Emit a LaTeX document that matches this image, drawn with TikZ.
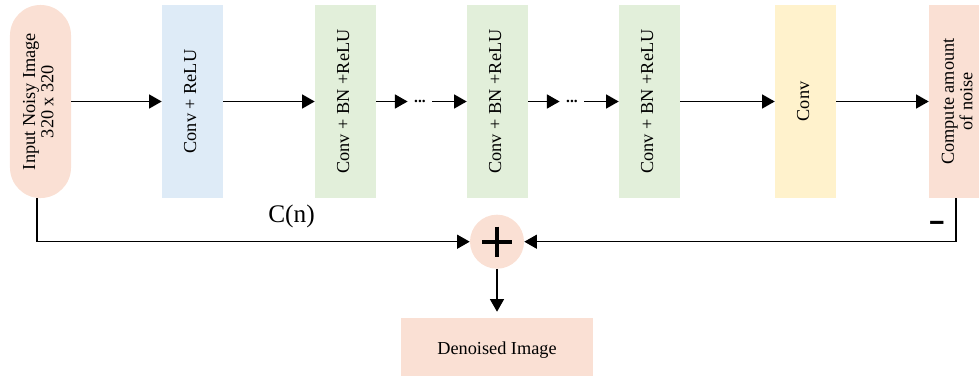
\documentclass[tikz,border=0pt]{standalone}
\usepackage{fontspec}
\setmainfont{Liberation Serif}
\usetikzlibrary{arrows.meta,positioning,calc}
\definecolor{peach}{RGB}{250,224,212}
\definecolor{convblue}{RGB}{222,235,247}
\definecolor{bngreen}{RGB}{226,239,218}
\definecolor{convyellow}{RGB}{255,242,204}
\newcommand{\vlabel}[1]{\rotatebox{90}{\begin{tabular}{@{}c@{}}#1\end{tabular}}}

\begin{document}
\begin{tikzpicture}[x=0.025cm,y=-0.025cm,
    layer/.style={minimum width=1.525cm,minimum height=4.825cm,inner sep=0pt,font=\fontsize{13}{13}\selectfont},
    dots/.style={inner sep=4.5pt,font=\fontsize{11}{11}\selectfont\bfseries},
    flow/.style={line width=0.9pt,-{Triangle[length=9pt,width=10pt]}}]
    \useasboundingbox (0,0) rectangle (979,375);

    % Network layers (positions in px of the 979 x 375 frame)
    \node[layer,fill=peach,rounded corners=0.76cm] (input) at (40.5,101.5) {\vlabel{Input Noisy Image\\320 x 320}};
    \node[layer,fill=convblue] (conv1) at (192.5,101.5) {\vlabel{Conv + ReLU}};
    \node[layer,fill=bngreen] (bn1) at (345.5,101.5) {\vlabel{Conv + BN +ReLU}};
    \node[dots] (dots1) at (420,101.5) {...};
    \node[layer,fill=bngreen] (bn2) at (497.5,101.5) {\vlabel{Conv + BN +ReLU}};
    \node[dots] (dots2) at (572,101.5) {...};
    \node[layer,fill=bngreen] (bn3) at (649.5,101.5) {\vlabel{Conv + BN +ReLU}};
    \node[layer,fill=convyellow] (conv2) at (805.5,101.5) {\vlabel{Conv}};
    \node[layer,fill=peach] (noise) at (959.5,101.5) {\vlabel{Compute amount\\of noise}};

    % Forward path
    \draw[flow] (input) -- (conv1);
    \draw[flow] (conv1) -- (bn1);
    \draw[flow] (bn1) -- (dots1);
    \draw[flow] (dots1) -- (bn2);
    \draw[flow] (bn2) -- (dots2);
    \draw[flow] (dots2) -- (bn3);
    \draw[flow] (bn3) -- (conv2);
    \draw[flow] (conv2) -- (noise);

    % Residual subtraction
    \node[circle,fill=peach,minimum size=1.35cm,inner sep=0pt] (sum) at (497,241.7) {};
    \draw[line width=2.8pt] (sum.center) ++(-15,0) -- ++(30,0) (sum.center) ++(0,-15) -- ++(0,30);
    \draw[flow] ([xshift=-2.5]input.south) |- (sum);
    \draw[flow] ([xshift=-2.5]noise.south) |- (sum);
    \node[font=\fontsize{18}{18}\selectfont] (cn) at (291.5,216) {C(n)};
    \node[font=\fontsize{26}{26}\selectfont\bfseries] (minus) at (937,226) {\scalebox{1.4}[1]{-}};

    % Output
    \node[fill=peach,minimum width=4.8cm,minimum height=1.6cm,font=\fontsize{13}{13}\selectfont] (out) at (497,350) {Denoised Image};
    \draw[flow,shorten >=0.15cm] (sum) -- (out);
\end{tikzpicture}
\end{document}
